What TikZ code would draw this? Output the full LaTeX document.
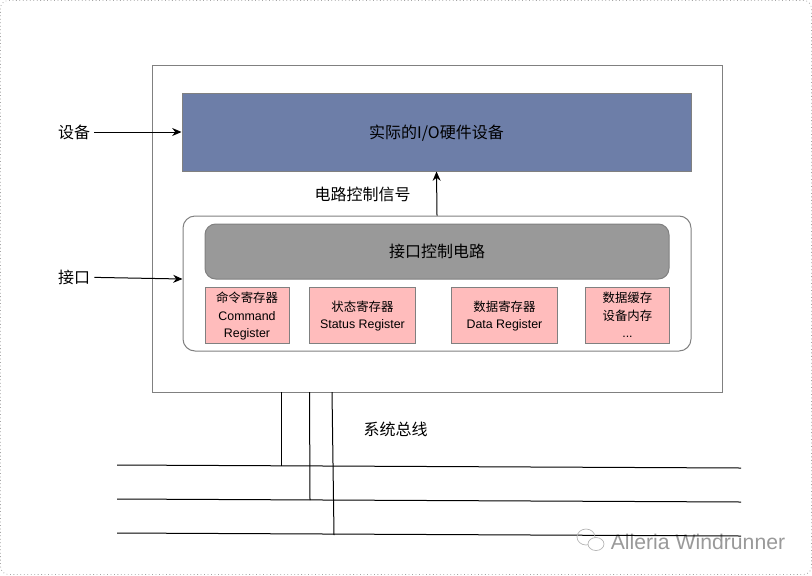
\documentclass[tikz,border=0pt]{standalone}
\usepackage{fontspec}
\usetikzlibrary{arrows.meta}
\setmainfont{Liberation Sans}
\newfontfamily\cjk{Noto Sans CJK SC}
\definecolor{frameline}{HTML}{808080}
\definecolor{devblue}{HTML}{6D7EA8}
\definecolor{ctrlgray}{HTML}{999999}
\definecolor{regpink}{HTML}{FFBCBC}
\tikzset{
  box/.style={draw=frameline, line width=0.75pt, inner sep=0pt, align=center},
  reg/.style={box, fill=regpink, minimum height=42pt, font=\fontsize{9.3}{13}\selectfont, text depth=-1pt},
  lbl/.style={inner sep=3pt, font=\cjk\fontsize{12}{14}\selectfont},
  wire/.style={line width=0.75pt},
  tip/.style={arrows=-{Stealth[length=7pt, width=6pt]}, wire}
}
\begin{document}
\begin{tikzpicture}[x=0.75pt, y=-0.75pt, node distance=2cm, auto]
\useasboundingbox (0,0) rectangle (812,575);
\draw[rounded corners=6pt, dotted, color=black!35, line width=0.6pt] (0.5,0.5) rectangle (811.5,574.5);
\node (outer)[box, minimum width=427.5pt, minimum height=245.25pt] at (437,228.5) {};
\node (device)[box, fill=devblue, minimum width=381.75pt, minimum height=58.5pt, font=\cjk\fontsize{12}{14}\selectfont, text depth=0pt] at (436.5,132) {实际的I/O硬件设备};
\node (iface)[box, rounded corners=9pt, minimum width=381pt, minimum height=101.25pt] at (437,283.5) {};
\node (ctrl)[box, fill=ctrlgray, rounded corners=8pt, minimum width=348pt, minimum height=41.25pt, font=\cjk\fontsize{12}{14}\selectfont] at (437,251.5) {接口控制电路};
\node (r1)[reg, minimum width=63pt] at (247,315) {{\cjk 命令寄存器}\\Command\\Register};
\node (r2)[reg, minimum width=80pt, right of=r1, node distance=86.6pt] {{\cjk 状态寄存器}\\Status Register};
\node (r3)[reg, minimum width=79.5pt, right of=r2, node distance=106.5pt] {{\cjk 数据寄存器}\\Data Register};
\node (r4)[reg, minimum width=63pt, text depth=-3pt, right of=r3, node distance=92.25pt] {{\cjk 数据缓存}\\{\cjk 设备内存}\\...};
\node (devlbl)[lbl] at (74,132) {设备};
\node (ifacelbl)[lbl] at (74,277) {接口};
\node (siglbl)[lbl] at (362.5,194) {电路控制信号};
\node (buslbl)[lbl] at (395.5,429) {系统总线};
\node (mark)[inner sep=0pt, color=black!40, font=\fontsize{15.9}{18}\selectfont] at (698,542) {Alleria Windrunner};
\coordinate (ifacein) at (182.5,279);
\draw[tip] (devlbl) -- (device.west);
\draw[tip] (ifacelbl) -- (ifacein);
\draw[tip] (iface.north) -- (device.south);
% bus
\coordinate (b1l) at (117,465);
\coordinate (b1r) at (741,468);
\coordinate (b2l) at (117,499);
\coordinate (b2r) at (741,502);
\coordinate (b3l) at (117,533);
\coordinate (b3r) at (741,536);
\draw[wire] (b1l) -- (b1r);
\draw[wire] (b2l) -- (b2r);
\draw[wire] (b3l) -- (b3r);
\coordinate (t1) at (281,392);
\coordinate (t2) at (309.5,392);
\coordinate (t3) at (332,392);
\coordinate (j1) at (281,466);
\coordinate (j2) at (310,500);
\coordinate (j3) at (334,535);
\draw[wire] (t1) -- (j1);
\draw[wire] (t2) -- (j2);
\draw[wire] (t3) -- (j3);
% wechat mark
\draw[color=black!30, line width=0.5pt] (586,537) ellipse (9 and 8);
\draw[color=black!30, line width=0.5pt, fill=white] (596,544) ellipse (8 and 6.5);
\end{tikzpicture}
\end{document}
